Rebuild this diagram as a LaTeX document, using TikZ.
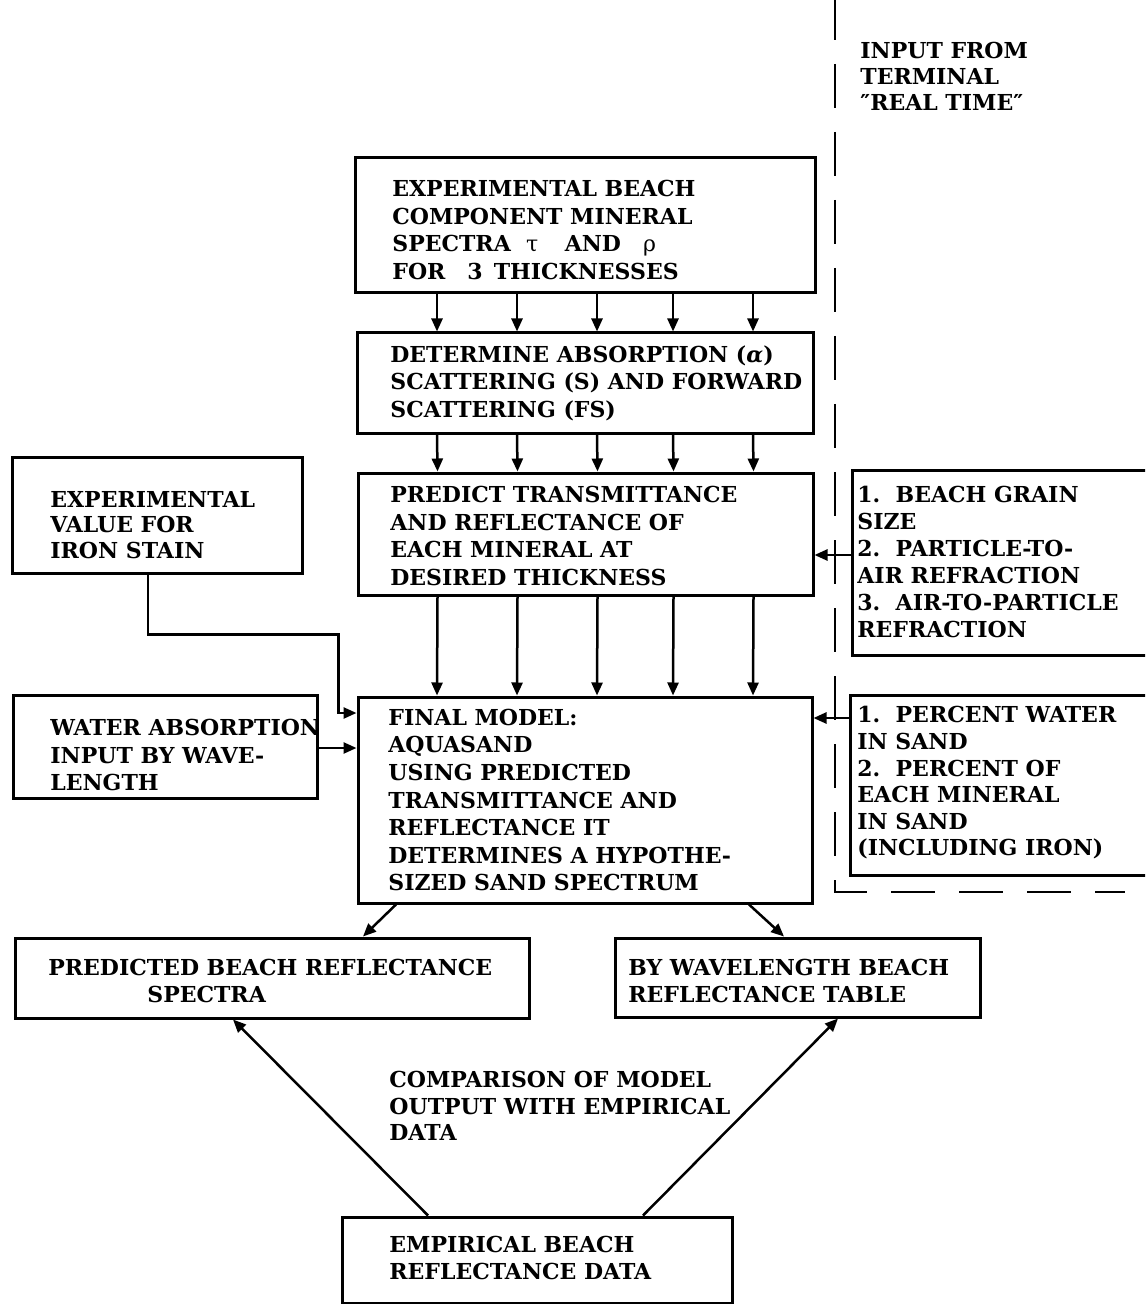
\documentclass[tikz,border=0pt]{standalone}
\usepackage{fontspec}
\setmainfont{DejaVu Serif}
\usetikzlibrary{arrows.meta,calc}
\begin{document}
\begin{tikzpicture}[x=0.5pt,y=-0.5pt,
  box/.style={draw, line width=1.5pt, inner sep=0pt},
  txt/.style={anchor=west, align=left, inner sep=0pt,
    font=\fontsize{11}{13.8}\selectfont\bfseries},
  arr/.style={line width=1.25pt, -{Triangle[length=6.5pt,width=5.5pt]}},
  bound/.style={line width=1.3pt, dash pattern=on 22pt off 12pt}]
\clip (0,0) rectangle (1145,1304);

% main column
\node[box, minimum width=230pt, minimum height=67.5pt] (b1) at (585,225.5) {};
\node[box, minimum width=228pt, minimum height=50pt] (b2) at (585,383) {};
\node[box, minimum width=227.5pt, minimum height=61pt] (b3) at (585.5,534) {};
\node[box, minimum width=227pt, minimum height=103pt] (b4) at (585,800) {};

\node[txt] (b1t) at (392,230) {EXPERIMENTAL BEACH\\COMPONENT MINERAL\\SPECTRA\hspace{0.7em}{\mdseries τ}\hspace{1.2em}AND\hspace{1em}{\mdseries ρ}\\FOR\hspace{1em}3\hspace{0.5em}THICKNESSES};
\node[txt] (b2t) at (390,383) {DETERMINE ABSORPTION (\textit{α})\\SCATTERING (S) AND FORWARD\\SCATTERING (FS)};
\node[txt] (b3t) at (390,536) {PREDICT TRANSMITTANCE\\AND REFLECTANCE OF\\EACH MINERAL AT\\DESIRED THICKNESS};
\node[txt] (b4t) at (388,800) {FINAL MODEL:\\AQUASAND\\USING PREDICTED\\TRANSMITTANCE AND\\REFLECTANCE IT\\DETERMINES A HYPOTHE-\\SIZED SAND SPECTRUM};

% side inputs
\node[box, minimum width=145pt, minimum height=58pt] (iron) at (157,515) {};
\node[txt, font=\fontsize{11}{12.6}\selectfont\bfseries] (iront) at (50,525) {EXPERIMENTAL\\VALUE FOR\\IRON STAIN};
\node[box, minimum width=152pt, minimum height=51.5pt] (water) at (165,746.5) {};
\node[txt] (watert) at (50,755) {WATER ABSORPTION\\INPUT BY WAVE-\\LENGTH};

\node[box, minimum width=154pt, minimum height=92.5pt] (r1) at (1006,562.5) {};
\node[txt, font=\fontsize{11}{13.5}\selectfont\bfseries] (r1t) at (857,562) {1.\ \ BEACH GRAIN\\SIZE\\2.\ \ PARTICLE-TO-\\AIR REFRACTION\\3.\ \ AIR-TO-PARTICLE\\REFRACTION};
\node[box, minimum width=155pt, minimum height=90pt] (r2) at (1005,785) {};
\node[txt, font=\fontsize{11}{13.3}\selectfont\bfseries] (r2t) at (857,783) {1.\ \ PERCENT WATER\\IN SAND\\2.\ \ PERCENT OF\\EACH MINERAL\\IN SAND\\(INCLUDING IRON)};

\node[txt, font=\fontsize{11}{13}\selectfont\bfseries] (term) at (860,76) {INPUT FROM\\TERMINAL\\″REAL TIME″};

% outputs
\node[box, minimum width=257pt, minimum height=40pt] (pred) at (272,978) {};
\node[txt] (predt) at (48,981) {PREDICTED BEACH REFLECTANCE\\\hspace{49.5pt}SPECTRA};
\node[box, minimum width=182.5pt, minimum height=39.5pt] (tab) at (797.5,977.5) {};
\node[txt] (tabt) at (628,981) {BY WAVELENGTH BEACH\\REFLECTANCE TABLE};
\node[box, minimum width=195pt, minimum height=43pt] (emp) at (537,1260) {};
\node[txt] (empt) at (389,1258) {EMPIRICAL BEACH\\REFLECTANCE DATA};
\node[txt, font=\fontsize{11}{13.3}\selectfont\bfseries] (cmp) at (389,1106) {COMPARISON OF MODEL\\OUTPUT WITH EMPIRICAL\\DATA};

% terminal input boundary
\draw[bound] (835,-4) |- (1125,892);

% spectra flow
\foreach \dx in {-148,-68,12,88,168} {
  \draw[arr] ($(b1.south)+(\dx,0)$) -- ($(b2.north)+(\dx,0)$);
  \draw[arr] ($(b2.south)+(\dx,0)$) -- ($(b3.north)+(\dx,0)$);
  \draw[arr] ($(b3.south)+(\dx,0)$) -- ($(b4.north)+(\dx,0)$);
}

% iron stain and water inputs
\draw[arr] ($(iron.south)+(-9,0)$) -- ++(0,60) -| ($(b4.west)+(-18,-87)$) -- ($(b4.west)+(0,-87)$);
\coordinate (wa) at ($(water.east)+(0,1.5)$);
\draw[arr] (wa) -- (wa -| b4.west);

% terminal inputs
\coordinate (r1a) at ($(r1.west)+(0,-7.5)$);
\draw[arr] (r1a) -- (r1a -| b3.east);
\coordinate (r2a) at ($(r2.west)+(0,-67)$);
\draw[arr] (r2a) -- (r2a -| b4.east);

% model outputs and comparison
\draw[arr] ($(b4.south)+(-189,0)$) -- ($(pred.north)+(91,0)$);
\draw[arr] ($(b4.south)+(164,0)$) -- ($(tab.north)+(-13.5,0)$);
\draw[arr] ($(emp.north)+(-109,0)$) -- ($(pred.south)+(-39,0)$);
\draw[arr] ($(emp.north)+(106,0)$) -- ($(tab.south)+(40.5,0)$);
\end{tikzpicture}
\end{document}
